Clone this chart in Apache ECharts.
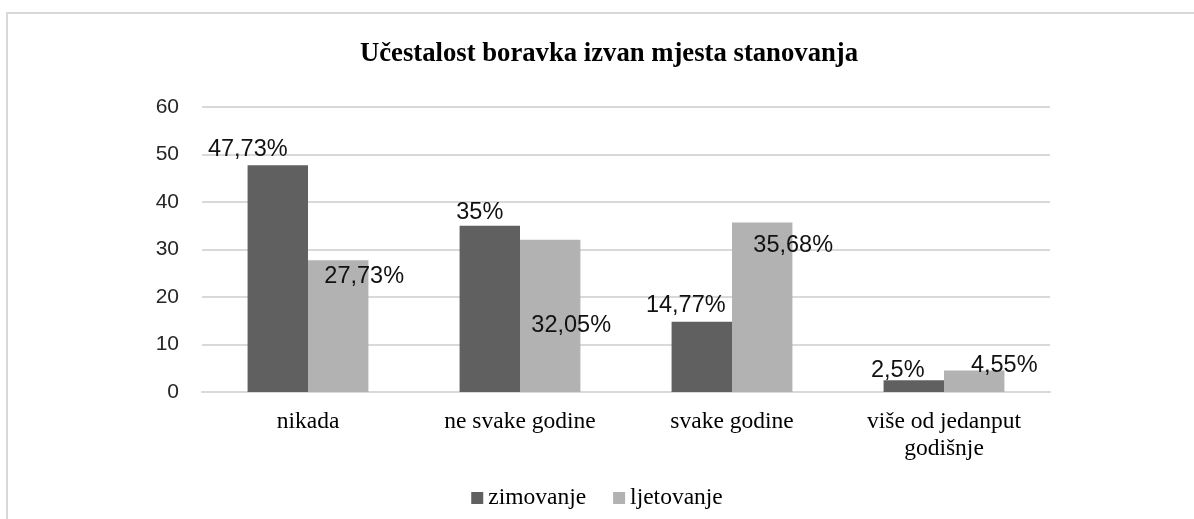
<!DOCTYPE html>
<html>
<head>
<meta charset="utf-8">
<script src="https://cdn.jsdelivr.net/npm/echarts@6/dist/echarts.min.js"></script>
<style>
  html, body { margin: 0; padding: 0; background: #fff; }
  #chart { width: 1194px; height: 519px; }
</style>
</head>
<body>
<div id="chart"></div>
<script>
// categories and values
const categories = ['nikada', 'ne svake godine', 'svake godine', 'više od jedanput\ngodišnje']
const zimovanje = [47.73, 35, 14.77, 2.5]
const ljetovanje = [27.73, 32.05, 35.68, 4.55]
const yTicks = [0, 10, 20, 30, 40, 50, 60]

// label offsets from the bar top centre (moved by hand in the original)
const zimLabelOffset = [[-30, -16], [-10, -13], [-16, -16], [-16, -10]]
const ljeLabelOffset = [[26, 16], [21, 86], [31, 23], [30, -5]]

const serif = '"Liberation Serif", "Times New Roman", serif'
const sans = '"Liberation Sans", Arial, sans-serif'

function fmt(v) {
  return String(v).replace('.', ',') + '%'
}

function buildData(values, offsets) {
  return values.map((v, i) => ({
    value: v,
    label: { offset: offsets[i] }
  }))
}

const chart = echarts.init(document.getElementById('chart'))

const labelStyle = {
  show: true,
  position: ['50%', 0],
  align: 'center',
  verticalAlign: 'middle',
  fontFamily: sans,
  fontSize: 23.5,
  color: '#111',
  formatter: p => fmt(p.value)
}

chart.setOption({
  animation: false,
  title: {
    text: 'Učestalost boravka izvan mjesta stanovanja',
    left: 604,
    textAlign: 'center',
    top: 36,
    textStyle: { fontFamily: serif, fontWeight: 'bold', fontSize: 26.7, color: '#000' }
  },
  graphic: [{
    type: 'rect',
    shape: { x: 7, y: 13, width: 1400, height: 700 },
    style: { fill: 'none', stroke: '#d9d9d9', lineWidth: 2 },
    silent: true
  }],
  legend: {
    data: ['zimovanje', 'ljetovanje'],
    left: 'center',
    top: 481,
    icon: 'rect',
    itemWidth: 12,
    itemHeight: 12,
    itemGap: 27,
    textStyle: { fontFamily: serif, fontSize: 23.5, color: '#000' }
  },
  grid: {
    left: 202,
    right: 144,
    top: 107,
    bottom: 127,
    containLabel: false,
    outerBoundsMode: 'none'
  },
  xAxis: {
    type: 'category',
    data: categories,
    axisLine: { show: true, lineStyle: { color: '#d9d9d9', width: 2 } },
    axisTick: { show: false },
    axisLabel: {
      fontFamily: serif,
      fontSize: 23.5,
      lineHeight: 27,
      color: '#000',
      margin: 16,
      interval: 0
    }
  },
  yAxis: {
    type: 'value',
    min: yTicks[0],
    max: yTicks[yTicks.length - 1],
    interval: 10,
    axisLine: { show: false },
    axisTick: { show: false },
    splitLine: { lineStyle: { color: '#d9d9d9', width: 2 } },
    axisLabel: {
      fontFamily: sans,
      fontSize: 21,
      color: '#262626',
      margin: 23
    }
  },
  series: [
    {
      name: 'zimovanje',
      type: 'bar',
      data: buildData(zimovanje, zimLabelOffset),
      itemStyle: { color: '#606060' },
      barGap: '0%',
      barCategoryGap: '43%',
      label: labelStyle
    },
    {
      name: 'ljetovanje',
      type: 'bar',
      data: buildData(ljetovanje, ljeLabelOffset),
      itemStyle: { color: '#b2b2b2' },
      barGap: '0%',
      barCategoryGap: '43%',
      label: labelStyle
    }
  ]
})
</script>
</body>
</html>
